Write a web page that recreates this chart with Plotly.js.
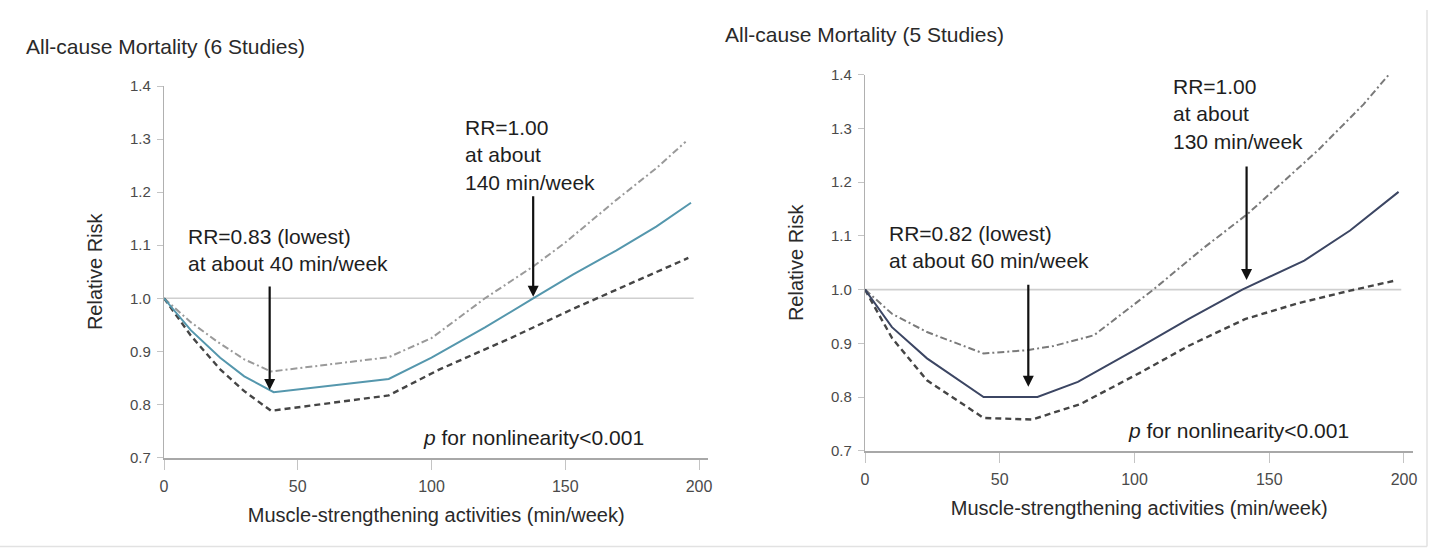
<!DOCTYPE html>
<html>
<head>
<meta charset="utf-8">
<script src="https://cdn.plot.ly/plotly-3.0.1.min.js"></script>
<style>html,body{margin:0;padding:0;background:#fff;}#chart{width:1435px;height:548px;}</style>
</head>
<body>
<div id="chart"></div>
<script>
// ---- Data ----
const leftTitle = "All-cause Mortality (6 Studies)";
const rightTitle = "All-cause Mortality (5 Studies)";
const xTitle = "Muscle-strengthening activities (min/week)";
const yTitle = "Relative Risk";
const xTicks = [0, 50, 100, 150, 200];
const yTicks = [0.7, 0.8, 0.9, 1.0, 1.1, 1.2, 1.3, 1.4];

// Left panel (6 studies)
const leftMidX   = [0, 10, 21, 30, 41, 84, 100, 120, 138, 153, 169, 184, 197];
const leftMidRR  = [1.0, 0.94, 0.888, 0.853, 0.823, 0.848, 0.888, 0.945, 1.0, 1.045, 1.09, 1.135, 1.18];
const leftUpX    = [0, 10, 20, 30, 40, 84, 100, 120, 138, 150, 169, 184, 195];
const leftUpRR   = [1.0, 0.955, 0.918, 0.885, 0.862, 0.889, 0.925, 1.0, 1.06, 1.105, 1.185, 1.245, 1.295];
const leftLoX    = [0, 10, 21, 30, 40, 84, 103, 130, 152, 175, 196];
const leftLoRR   = [1.0, 0.93, 0.866, 0.825, 0.788, 0.817, 0.866, 0.926, 0.978, 1.03, 1.076];

// Right panel (5 studies)
const rightMidX  = [0, 10, 23, 44, 64, 79, 102, 120, 140, 163, 180, 198];
const rightMidRR = [1.0, 0.93, 0.872, 0.80, 0.80, 0.828, 0.893, 0.945, 1.0, 1.054, 1.11, 1.182];
const rightUpX   = [0, 10, 23, 44, 60, 70, 85, 102, 107, 125, 142, 168, 185, 195];
const rightUpRR  = [1.0, 0.955, 0.921, 0.881, 0.887, 0.895, 0.915, 0.98, 1.0, 1.075, 1.141, 1.259, 1.345, 1.404];
const rightLoX   = [0, 10, 23, 44, 62, 80, 102, 120, 141, 161, 180, 196];
const rightLoRR  = [1.0, 0.91, 0.831, 0.761, 0.758, 0.787, 0.845, 0.895, 0.945, 0.975, 0.998, 1.016];

// Arrows: [x, head RR, tail RR]
const leftLowArrow  = [39.5, 0.827, 1.025];
const leftOneArrow  = [138, 1.003, 1.195];
const rightLowArrow = [60.6, 0.819, 1.012];
const rightOneArrow = [141.6, 1.018, 1.232];

const leftLowText  = "RR=0.83 (lowest)<br>at about 40 min/week";
const leftOneText  = "RR=1.00<br>at about<br>140 min/week";
const rightLowText = "RR=0.82 (lowest)<br>at about 60 min/week";
const rightOneText = "RR=1.00<br>at about<br>130 min/week";
const pText = "<i>p</i> for nonlinearity<0.001";

// ---- Layout helpers ----
const W = 1435, H = 548;
const px = v => v / W;
const py = v => 1 - v / H;
const FONT = "Liberation Sans, Arial, sans-serif";

const upColorL = "#9a9a9a", loColor = "#454545", upColorR = "#7a7a7a";

function tr(x, y, xa, ya, color, width, dash) {
  return {x: x, y: y, xaxis: xa, yaxis: ya, type: "scatter", mode: "lines",
          line: {color: color, width: width, dash: dash}, hoverinfo: "skip", showlegend: false};
}

const data = [
  tr(leftUpX, leftUpRR, "x", "y", upColorL, 2, "7px,3px,2px,3px"),
  tr(leftLoX, leftLoRR, "x", "y", loColor, 2.4, "6px,4px"),
  tr(leftMidX, leftMidRR, "x", "y", "#5597ad", 2, "solid"),
  tr(rightUpX, rightUpRR, "x2", "y2", upColorR, 2, "7px,3px,2px,3px"),
  tr(rightLoX, rightLoRR, "x2", "y2", loColor, 2.4, "6px,4px"),
  tr(rightMidX, rightMidRR, "x2", "y2", "#3c4663", 2, "solid")
];

function xaxisDef(domain) {
  return {domain: domain, range: [0, 203.5], showgrid: false, zeroline: false,
          showline: true, linecolor: "#a8a8a8", linewidth: 2,
          ticks: "outside", ticklen: 10, tickcolor: "#c4c4c4", tickwidth: 1,
          tickvals: xTicks, ticktext: xTicks.map(String), ticklabelstandoff: 3,
          tickfont: {family: FONT, size: 16, color: "#4a4a4a"},
          title: {text: xTitle, font: {family: FONT, size: 20, color: "#2a2a2a"}, standoff: 14},
          fixedrange: true};
}
function yaxisDef(domain, anchor) {
  return {domain: domain, range: [0.7, 1.4], anchor: anchor, showgrid: false, zeroline: false,
          showline: true, linecolor: "#b0b0b0", linewidth: 1.2,
          ticks: "outside", ticklen: 6, tickcolor: "#c4c4c4", tickwidth: 1,
          tickvals: yTicks, ticktext: yTicks.map(v => v.toFixed(1)), ticklabelstandoff: 3,
          tickfont: {family: FONT, size: 15, color: "#4a4a4a"},
          title: {text: yTitle, font: {family: FONT, size: 20, color: "#2a2a2a"}, standoff: 22},
          fixedrange: true};
}

function ann(text, xpx, ypx, size, color) {
  return {text: text, xref: "paper", yref: "paper", x: px(xpx), y: py(ypx),
          xanchor: "left", yanchor: "middle", align: "left", showarrow: false,
          font: {family: FONT, size: size, color: color}};
}
function arrow(a, xr, yr) {
  return {x: a[0], y: a[1], ax: a[0], ay: a[2], xref: xr, yref: yr, axref: xr, ayref: yr,
          text: "", showarrow: true, arrowhead: 2, arrowsize: 1, arrowwidth: 2.2, arrowcolor: "#111"};
}

const layout = {
  width: W, height: H, margin: {l: 0, r: 0, t: 0, b: 0},
  paper_bgcolor: "#fff", plot_bgcolor: "rgba(0,0,0,0)",
  xaxis: Object.assign(xaxisDef([px(164), px(708.4)]), {anchor: "y"}),
  yaxis: yaxisDef([1 - 457.5 / H, 1 - 86 / H], "x"),
  xaxis2: Object.assign(xaxisDef([px(865), px(1413.4)]), {anchor: "y2"}),
  yaxis2: yaxisDef([1 - 450.7 / H, 1 - 74.8 / H], "x2"),
  shapes: [
    {type: "line", xref: "x", yref: "y", x0: 0, x1: 198, y0: 1, y1: 1, line: {color: "#cfcfcf", width: 1.6}, layer: "below"},
    {type: "line", xref: "x2", yref: "y2", x0: 0, x1: 199, y0: 1, y1: 1, line: {color: "#cfcfcf", width: 1.6}, layer: "below"},
    {type: "line", xref: "paper", yref: "paper", x0: 0, x1: px(1427), y0: py(546.5), y1: py(546.5), line: {color: "#e2e2e2", width: 1.5}},
    {type: "line", xref: "paper", yref: "paper", x0: px(1427), x1: px(1427), y0: py(10), y1: py(546.5), line: {color: "#e2e2e2", width: 1.5}}
  ],
  annotations: [
    ann(leftTitle, 24, 46.7, 21, "#2a2a2a"),
    ann(rightTitle, 723, 35, 21, "#2a2a2a"),
    ann(leftLowText, 186, 249.5, 21, "#1e1e1e"),
    ann(leftOneText, 463, 155.5, 21, "#1e1e1e"),
    ann(rightLowText, 887, 246.5, 21, "#1e1e1e"),
    ann(rightOneText, 1171, 114, 21, "#1e1e1e"),
    ann(pText, 421, 437.7, 21, "#1e1e1e"),
    ann(pText, 1126, 430.7, 21, "#1e1e1e"),
    arrow(leftLowArrow, "x", "y"),
    arrow(leftOneArrow, "x", "y"),
    arrow(rightLowArrow, "x2", "y2"),
    arrow(rightOneArrow, "x2", "y2")
  ]
};

Plotly.newPlot("chart", data, layout, {displayModeBar: false, staticPlot: true});
</script>
</body>
</html>
